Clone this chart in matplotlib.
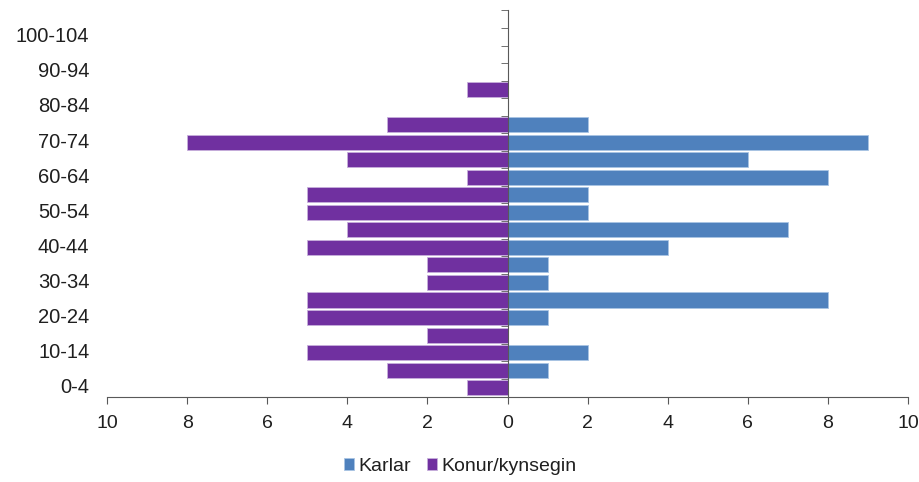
import matplotlib.pyplot as plt
import numpy as np
from matplotlib.ticker import FixedLocator

plt.rcParams['font.family'] = ['Liberation Sans', 'DejaVu Sans']

AGE_GROUPS = ["0-4", "5-9", "10-14", "15-19", "20-24", "25-29", "30-34",
              "35-39", "40-44", "45-49", "50-54", "55-59", "60-64", "65-69",
              "70-74", "75-79", "80-84", "85-89", "90-94", "95-99",
              "100-104", "105+"]
MEN = [0, 1, 2, 0, 1, 8, 1, 1, 4, 7, 2, 2, 8, 6, 9, 2, 0, 0, 0, 0, 0, 0]
WOMEN = [1, 3, 5, 2, 5, 5, 2, 2, 5, 4, 5, 5, 1, 4, 8, 3, 0, 1, 0, 0, 0, 0]
X_TICKS = [-10, -8, -6, -4, -2, 0, 2, 4, 6, 8, 10]

BLUE = "#4F81BD"
PURPLE = "#7030A0"
AXIS = "#595959"
TEXT = "#1f1f1f"

fig = plt.figure(figsize=(9.2, 4.82), dpi=100)
ax = fig.add_axes([107 / 920, 85.5 / 482, 801 / 920, 386 / 482])

y = np.arange(len(AGE_GROUPS))
ax.barh(y, MEN, height=0.86, color=BLUE, edgecolor="#a9c4e4", linewidth=0.6,
        label="Karlar")
ax.barh(y, -np.asarray(WOMEN), height=0.86, color=PURPLE, edgecolor="#c7b0dc",
        linewidth=0.6, label="Konur/kynsegin")

ax.set_xlim(-10, 10)
ax.set_ylim(-0.5, len(AGE_GROUPS) - 0.5)

for side in ("top", "right"):
    ax.spines[side].set_visible(False)
ax.spines["left"].set_position(("data", 0))
ax.spines["left"].set_color(AXIS)
ax.spines["left"].set_zorder(3)
ax.spines["bottom"].set_color(AXIS)

ax.set_xticks(X_TICKS)
ax.set_xticklabels([str(abs(v)) for v in X_TICKS])
ax.tick_params(axis="x", length=5, color=AXIS, labelsize=14, pad=8,
               labelcolor=TEXT)

ax.set_yticks([])
ax.yaxis.set_minor_locator(FixedLocator(np.arange(len(AGE_GROUPS) + 1) - 0.5))
ax.tick_params(axis="y", which="minor", length=5, color=AXIS, direction="out")

for i, lab in enumerate(AGE_GROUPS):
    if i % 2 == 0:
        ax.text(-0.022, i, lab, transform=ax.get_yaxis_transform(),
                ha="right", va="center", fontsize=14.5, color=TEXT)

fig.legend(loc="lower center", bbox_to_anchor=(0.5, -0.022), ncol=2,
           frameon=False, fontsize=14, handlelength=0.55, handleheight=0.55,
           handletextpad=0.2, columnspacing=0.8, labelcolor=TEXT)

fig.savefig("out.png", dpi=100, facecolor="white")
